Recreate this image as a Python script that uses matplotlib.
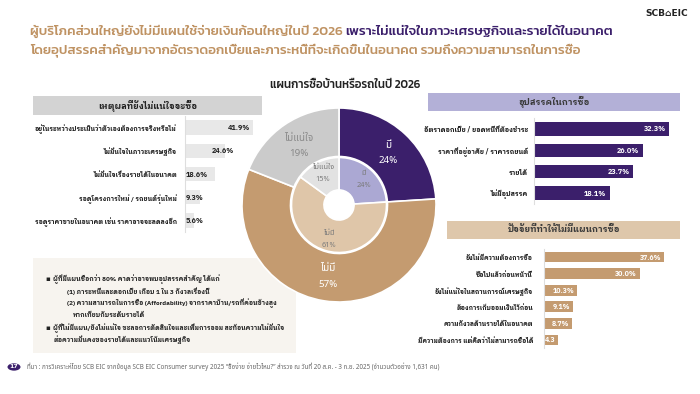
import matplotlib
matplotlib.use('Agg')
import matplotlib.pyplot as plt
from matplotlib.patches import Rectangle, Circle
import numpy as np

# ---------------- data ----------------
title_line1_a = "ผู้บริโภคส่วนใหญ่ยังไม่มีแผนใช้จ่ายเงินก้อนใหญ่ในปี 2026 "
title_line1_b = "เพราะไม่แน่ใจในภาวะเศรษฐกิจและรายได้ในอนาคต"
title_line2 = "โดยอุปสรรคสำคัญมาจากอัตราดอกเบี้ยและภาระหนี้ที่จะเกิดขึ้นในอนาคต รวมถึงความสามารถในการซื้อ"
donut_title = "แผนการซื้อบ้านหรือรถในปี 2026"

plan_labels = ["มี", "ไม่มี", "ไม่แน่ใจ"]
outer_values = [24, 57, 19]
inner_values = [24, 61, 15]

unsure_title = "เหตุผลที่ยังไม่แน่ใจจะซื้อ"
unsure_cats = ["อยู่ในระหว่างประเมินว่าตัวเองต้องการจริงหรือไม่",
               "ไม่มั่นใจในภาวะเศรษฐกิจ",
               "ไม่มั่นใจเรื่องรายได้ในอนาคต",
               "รอดูโครงการใหม่ / รถยนต์รุ่นใหม่",
               "รอดูราคาขายในอนาคต เช่น ราคาอาจจะลดลงอีก"]
unsure_vals = [41.9, 24.6, 18.6, 9.3, 5.6]

obst_title = "อุปสรรคในการซื้อ"
obst_cats = ["อัตราดอกเบี้ย / ยอดหนี้ที่ต้องชำระ",
             "ราคาที่อยู่อาศัย / ราคารถยนต์",
             "รายได้",
             "ไม่มีอุปสรรค"]
obst_vals = [32.3, 26.0, 23.7, 18.1]

noplan_title = "ปัจจัยที่ทำให้ไม่มีแผนการซื้อ"
noplan_cats = ["ยังไม่มีความต้องการซื้อ",
               "ซื้อไปแล้วก่อนหน้านี้",
               "ยังไม่แน่ใจในสถานการณ์เศรษฐกิจ",
               "ต้องการเก็บออมเงินไว้ก่อน",
               "ความกังวลด้านรายได้ในอนาคต",
               "มีความต้องการ แต่คิดว่าไม่สามารถซื้อได้"]
noplan_vals = [37.6, 30.0, 10.3, 9.1, 8.7, 4.3]
noplan_texts = ["37.6%", "30.0%", "10.3%", "9.1%", "8.7%", "4.3"]

bullets = [
    ("b", "ผู้ที่มีแผนซื้อกว่า 80% คาดว่าอาจพบอุปสรรคสำคัญ ได้แก่"),
    ("s", "(1) ภาระหนี้และดอกเบี้ย เกือบ 1 ใน 3 กังวลเรื่องนี้"),
    ("s", "(2) ความสามารถในการซื้อ (Affordability) จากราคาบ้าน/รถที่ค่อนข้างสูง"),
    ("c2", "หากเทียบกับระดับรายได้"),
    ("b", "ผู้ที่ไม่มีแผน/ยังไม่แน่ใจ ชะลอการตัดสินใจและเพิ่มการออม สะท้อนความไม่มั่นใจ"),
    ("c", "ต่อความมั่นคงของรายได้และแนวโน้มเศรษฐกิจ"),
]
footer = ("ที่มา : การวิเคราะห์โดย SCB EIC จากข้อมูล SCB EIC Consumer survey 2025 "
          "“ซื้อง่าย จ่ายไวไหม?” สำรวจ ณ วันที่ 20 ส.ค. - 3 ก.ย. 2025 (จำนวนตัวอย่าง 1,631 คน)")
page_no = "17"

# ---------------- style ----------------
PURPLE = "#3b1f6b"
TAN = "#c49b70"
GREY = "#cbcbcb"
L_PURPLE = "#aba8d3"
L_TAN = "#dfc6a9"
L_GREY = "#e2e2e2"
TITLE_TAN = "#bf9262"

F_TITLE = ['Kanit', 'DejaVu Sans']
F_LAB = ['IBM Plex Sans Thai Looped', 'Noto Sans Thai Looped', 'DejaVu Sans']
F_PLAIN = ['Noto Sans Thai', 'DejaVu Sans']
plt.rcParams['font.family'] = F_LAB

W, H = 700, 394
fig = plt.figure(figsize=(7, 3.94), dpi=100)
fig.patch.set_facecolor('white')


def ax_px(x0, y0, x1, y1):
    return fig.add_axes([x0 / W, 1 - y1 / H, (x1 - x0) / W, (y1 - y0) / H])


def ftext(x, y, s, **kw):
    return fig.text(x / W, 1 - y / H, s, **kw)


def frect(x0, y0, x1, y1, color, z=0):
    fig.patches.append(Rectangle((x0 / W, 1 - y1 / H), (x1 - x0) / W, (y1 - y0) / H,
                                 transform=fig.transFigure, facecolor=color,
                                 edgecolor='none', zorder=z))


# ---------------- titles ----------------
TFS = 9.7
t1 = ftext(30, 31, title_line1_a, color=TITLE_TAN, fontsize=TFS, family=F_TITLE,
           weight='medium', va='center', ha='left')
fig.canvas.draw()
bb = t1.get_window_extent()
ftext(bb.x1, 31, title_line1_b, color=PURPLE, fontsize=TFS, family=F_TITLE,
      weight='medium', va='center', ha='left')
ftext(30, 50, title_line2, color=TITLE_TAN, fontsize=TFS, family=F_TITLE,
      weight='medium', va='center', ha='left')
ftext(667, 14, "SCB⌂EIC", color="#222222", fontsize=6.5, family=['DejaVu Sans'],
      weight='bold', va='center', ha='center')

# ---------------- donut ----------------
cx, cy, R = 339, 205, 97
ax = ax_px(cx - R, cy - R, cx + R, cy + R)
ax.axis('off')
ax.pie(outer_values, radius=1.0, colors=[PURPLE, TAN, GREY], startangle=90,
       counterclock=False, wedgeprops=dict(width=0.50, edgecolor='white', linewidth=1.2))
ax.pie(inner_values, radius=0.49, colors=[L_PURPLE, L_TAN, L_GREY], startangle=90,
       counterclock=False, wedgeprops=dict(width=0.335, edgecolor='white', linewidth=1.2))
ax.set_xlim(-1, 1)
ax.set_ylim(-1, 1)
ax.set_aspect('equal')


def mid_angles(vals):
    tot = sum(vals)
    out, start = [], 90.0
    for v in vals:
        span = 360.0 * v / tot
        out.append(np.deg2rad(start - span / 2))
        start -= span
    return out


outer_col = ['white', 'white', '#8a8a8a']
for lab, v, a, c in zip(plan_labels, outer_values, mid_angles(outer_values), outer_col):
    x, y = 0.74 * np.cos(a), 0.74 * np.sin(a)
    ax.text(x, y + 0.075, lab, ha='center', va='center', color=c, fontsize=7.2, family=F_PLAIN)
    ax.text(x, y - 0.085, f"{v}%", ha='center', va='center', color=c, fontsize=7, family=F_PLAIN)
for lab, v, a in zip(plan_labels, inner_values, mid_angles(inner_values)):
    x, y = 0.37 * np.cos(a), 0.37 * np.sin(a)
    ax.text(x, y + 0.06, lab, ha='center', va='center', color='#7a7a7a', fontsize=5.5, family=F_PLAIN)
    ax.text(x, y - 0.065, f"{v}%", ha='center', va='center', color='#7a7a7a', fontsize=5.3, family=F_PLAIN)
ftext(345, 85, donut_title, color='#222222', fontsize=8.3, family=F_TITLE,
      weight='medium', ha='center', va='center')


# ---------------- bar panels ----------------
def bar_panel(box, cats, vals, xmax, color, pad_pt, fs, height, label_fn):
    x0, y0, x1, y1 = box
    a = ax_px(x0, y0, x1, y1)
    n = len(cats)
    ypos = np.arange(n)
    a.barh(ypos, vals, height=height, color=color)
    a.set_xlim(0, xmax)
    a.set_ylim(n - 0.5, -0.5)
    a.set_yticks(ypos)
    a.set_yticklabels(cats, fontsize=fs, weight='bold', color='#1a1a1a')
    a.tick_params(axis='y', length=0, pad=pad_pt)
    a.set_xticks([])
    for s in ['top', 'right', 'bottom']:
        a.spines[s].set_visible(False)
    a.spines['left'].set_color('#dedede')
    a.spines['left'].set_linewidth(0.8)
    a.patch.set_alpha(0)
    for i, v in enumerate(vals):
        label_fn(a, i, v)
    return a


def lab_unsure(a, i, v):
    txt = f"{v:.1f}%"
    kw = dict(va='center', fontsize=5.2, weight='bold', color='#222222')
    if v >= 30:
        a.text(v - 1.5, i, txt, ha='right', **kw)
    elif v >= 20:
        a.text(v - 8, i, txt, ha='left', **kw)
    else:
        a.text(0.6, i, txt, ha='left', **kw)


def lab_obst(a, i, v):
    a.text(v - 0.8, i, f"{v:.1f}%", ha='right', va='center', fontsize=5.2, weight='bold', color='white')


def lab_noplan(a, i, v):
    a.text(v - 0.8, i, noplan_texts[i], ha='right', va='center', fontsize=5.0, weight='bold', color='white')


# left panel
frect(33, 96, 262, 115, '#d3d3d3')
ftext(147.5, 105.5, unsure_title, color='#222222', fontsize=6.3, weight='bold', ha='center', va='center')
bar_panel((185, 116, 185 + 1.62 * 45, 232), unsure_cats, unsure_vals, 45, '#e8e8e8', 5.8, 4.6, 0.62, lab_unsure)

# right top panel
frect(428, 93, 680, 111, '#b3b0d7')
ftext(554, 102, obst_title, color='#3a3a3a', fontsize=6.3, weight='bold', ha='center', va='center')
bar_panel((534, 118.3, 534 + 4.18 * 35, 203.7), obst_cats, obst_vals, 35, PURPLE, 4.3, 4.8, 0.62, lab_obst)

# right bottom panel
frect(447, 221, 680, 239, '#dec7ab')
ftext(563.5, 230, noplan_title, color='#3a3a3a', fontsize=6.3, weight='bold', ha='center', va='center')
bar_panel((544, 248.7, 544 + 3.19 * 42, 348.3), noplan_cats, noplan_vals, 42, TAN, 8, 4.5, 0.64, lab_noplan)

# ---------------- bullet box ----------------
frect(33, 258, 296, 353, '#f7f4ef', z=-1)
ys = [279, 291, 303, 315, 328, 340]
xs = {'b': 53, 's': 67, 'c2': 73, 'c': 53}
for (kind, s), yb in zip(bullets, ys):
    if kind == 'b':
        ftext(45, yb, "▪", fontsize=5, color='#222222', va='center', ha='left', family=['DejaVu Sans'])
    ftext(xs[kind], yb, s, fontsize=4.6, weight='bold', color='#222222', va='center', ha='left')

# ---------------- footer ----------------
fig.patches.append(Circle((14 / W, 1 - 367 / H), 6.5 / W, transform=fig.transFigure,
                          facecolor=PURPLE, edgecolor='none'))
ftext(14, 367, page_no, fontsize=4.5, color='white', weight='bold', ha='center', va='center',
      family=['DejaVu Sans'])
ftext(27, 367, footer, fontsize=4.5, color='#666666', ha='left', va='center', family=F_PLAIN)

fig.savefig('out.png', dpi=100, facecolor='white')
